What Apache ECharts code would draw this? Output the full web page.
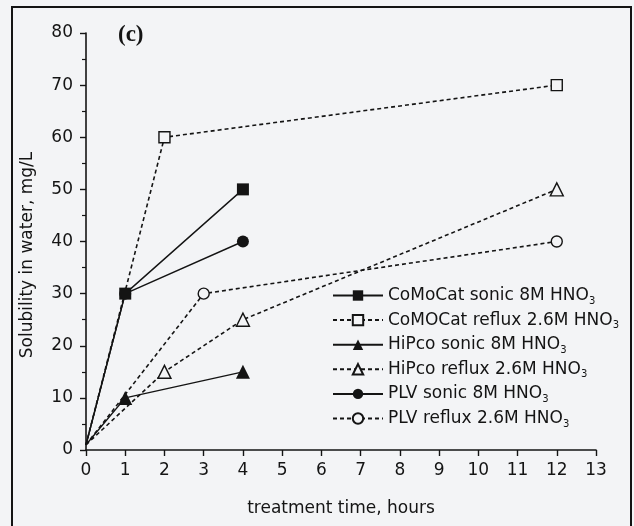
<!DOCTYPE html>
<html><head><meta charset="utf-8">
<script src="https://cdn.jsdelivr.net/npm/echarts@6/dist/echarts.min.js"></script>
<style>html,body{margin:0;padding:0;background:#f3f4f6}#c{width:634px;height:526px}</style>
</head><body><div id="c"></div>
<script>
const seriesNames = ['CoMoCat sonic 8M HNO', 'CoMOCat reflux 2.6M HNO', 'HiPco sonic 8M HNO', 'HiPco reflux 2.6M HNO', 'PLV sonic 8M HNO', 'PLV reflux 2.6M HNO'];
const comocatSonic = [[0, 1], [1, 30], [4, 50]];
const comocatReflux = [[0, 1], [2, 60], [12, 70]];
const hipcoSonic = [[0, 1], [1, 10], [4, 15]];
const hipcoReflux = [[0, 1], [2, 15], [4, 25], [12, 50]];
const plvSonic = [[0, 1], [1, 30], [4, 40]];
const plvReflux = [[0, 1], [3, 30], [12, 40]];
const xTicks = [0,1,2,3,4,5,6,7,8,9,10,11,12,13];
const yTicks = [0,10,20,30,40,50,60,70,80];

const BG = '#f3f4f6', INK = '#141414';
const FONT = '"DejaVu Sans", sans-serif';
const dataSets = [comocatSonic, comocatReflux, hipcoSonic, hipcoReflux, plvSonic, plvReflux];
const symbols = ['rect', 'rect', 'triangle', 'triangle', 'circle', 'circle'];
const sizes = [12, 11, 14, 13, 12, 11];
const dashed = [false, true, false, true, false, true];

const series = dataSets.map((d, i) => ({
  name: seriesNames[i],
  type: 'line',
  data: d,
  symbol: symbols[i],
  symbolSize: (v, p) => (p && p.dataIndex === 0) ? 0 : sizes[i],
  showAllSymbol: true,
  z: dashed[i] ? 2 : 3,
  lineStyle: { color: INK, width: dashed[i] ? 1.6 : 1.4, type: dashed[i] ? [4, 3] : 'solid' },
  itemStyle: dashed[i] ? { color: BG, borderColor: INK, borderWidth: 1.4 } : { color: INK, borderColor: INK, borderWidth: 0 },
  emphasis: { disabled: true },
  animation: false
}));

const chart = echarts.init(document.getElementById('c'), null, { renderer: 'canvas' });
chart.setOption({
  backgroundColor: BG,
  animation: false,
  grid: { left: 86, right: 38, top: 33, bottom: 76 },
  xAxis: {
    type: 'value', min: xTicks[0], max: xTicks[xTicks.length - 1], interval: 1,
    name: 'treatment time, hours', nameLocation: 'middle', nameGap: 50,
    nameTextStyle: { fontFamily: FONT, fontSize: 17, color: INK },
    axisLine: { onZero: false, lineStyle: { color: INK, width: 1.6 } },
    axisTick: { show: true, inside: false, length: 6, lineStyle: { color: INK, width: 1.4 } },
    axisLabel: { fontFamily: FONT, fontSize: 17, color: INK, margin: 12 },
    splitLine: { show: false }
  },
  yAxis: {
    type: 'value', min: yTicks[0], max: yTicks[yTicks.length - 1], interval: 10,
    axisLine: { show: true, onZero: false, lineStyle: { color: INK, width: 1.6 } },
    axisTick: { show: true, inside: false, length: 6, lineStyle: { color: INK, width: 1.4 } },
    minorTick: { show: true, splitNumber: 2, length: 4, lineStyle: { color: INK, width: 1.2 } },
    axisLabel: { fontFamily: FONT, fontSize: 17, color: INK, margin: 13 },
    splitLine: { show: false }
  },
  legend: {
    orient: 'vertical', left: 327, top: 280,
    itemWidth: 50, itemHeight: 13, itemGap: 3.6,
    selectedMode: false,
    data: seriesNames,
    formatter: n => '{a|' + n + '}{s|3}',
    textStyle: {
      color: INK, fontFamily: FONT,
      rich: {
        a: { fontSize: 17, fontFamily: FONT, color: INK, lineHeight: 20 },
        s: { fontSize: 10, fontFamily: FONT, color: INK, lineHeight: 20, padding: [11, 0, 0, 0] }
      }
    }
  },
  graphic: [
    { type: 'rect', shape: { x: 12, y: 7, width: 619, height: 530 }, style: { fill: 'none', stroke: INK, lineWidth: 2 }, silent: true },
    { type: 'text', left: 118, top: 24, style: { text: '(c)', font: 'bold 23px "Liberation Serif", "Times New Roman", serif', fill: INK } },
    { type: 'text', x: 28, y: 255, rotation: Math.PI / 2, style: { text: 'Solubility in water, mg/L', font: '17px "DejaVu Sans", sans-serif', fill: INK, align: 'center', verticalAlign: 'middle' } }
  ],
  series: series
});
</script></body></html>
